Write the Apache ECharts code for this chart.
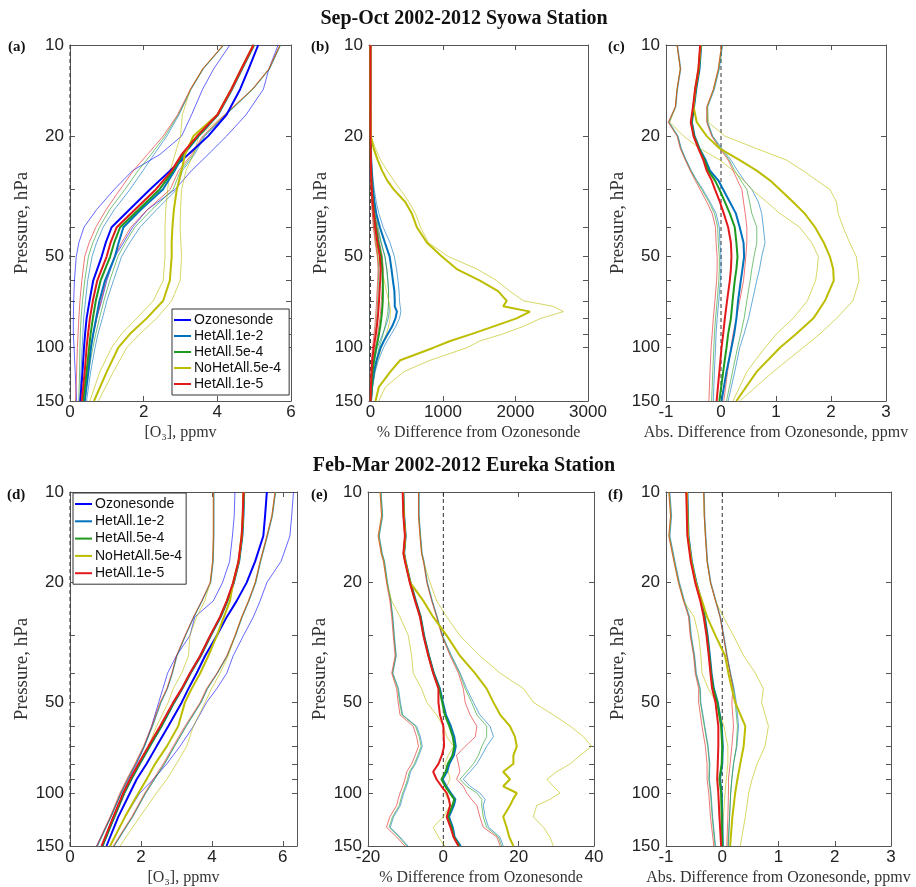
<!DOCTYPE html>
<html><head><meta charset="utf-8">
<script src="https://cdn.jsdelivr.net/npm/echarts@6/dist/echarts.min.js"></script>
<style>html,body{margin:0;padding:0;background:#fff}#c{width:916px;height:887px}</style>
</head><body><div id="c"></div>
<script>
// ---------------- DATA ----------------
// Pressure levels (hPa) per panel
const P_A = [10,12,14,17,20,23,26,30,35,40,45,50,60,70,80,90,100,120,150];
const P_B = [10,15,20,22,24,26,28,30,33,36,40,45,50,55,60,65,70,73,76,80,85,90,95,100,110,120,135,150];
const P_C = [10,12,14,16,18,20,22,24,26,28,30,33,36,40,45,50,55,60,70,80,90,100,120,150];
const P_D = [10,12,14,17,20,23,26,30,35,40,45,50,60,70,80,90,100,120,150];
const P_E = [10,12,14,16,17,20,23,26,30,35,40,45,50,55,60,65,70,75,80,85,90,95,100,105,110,120,130,140,150];
const P_F = [10,12,14,17,20,23,26,30,35,40,45,50,60,70,80,90,100,120,150];

// Tick labels
const Y_TICK_LABELS = [10,20,50,100,150];
const Y_TICKS = [10,20,30,40,50,60,70,80,90,100,150];
const XT_A = [0,2,4,6];
const XT_B = [0,1000,2000,3000];
const XT_C = [-1,0,1,2,3];
const XT_D = [0,2,4,6];
const XT_E = [-20,0,20,40];
const XT_F = [-1,0,1,2,3];

// (a) Syowa O3, ppmv
const a_oz_lo   = [4.34,3.9,3.6,3.3,3.03,2.44,1.7,1.2,0.72,0.38,0.24,0.17,0.12,0.1,0.09,0.09,0.11,0.14,0.18];
const a_oz_mean = [5.11,4.85,4.62,4.25,3.75,3.21,2.72,2.17,1.61,1.13,0.97,0.86,0.63,0.53,0.45,0.41,0.38,0.34,0.28];
const a_oz_hi   = [5.65,5.4,5.25,4.78,4.25,3.75,3.3,2.85,2.1,1.7,1.45,1.22,1.0,0.86,0.72,0.63,0.56,0.47,0.41];
const a_h2_lo   = [4.18,3.62,3.29,2.96,2.63,2.28,1.98,1.63,1.2,0.9,0.72,0.6,0.48,0.42,0.37,0.35,0.33,0.3,0.27];
const a_h2_mean = [5.0,4.67,4.4,4.02,3.49,3.09,2.84,2.52,1.92,1.45,1.32,1.22,0.95,0.8,0.71,0.63,0.57,0.5,0.4];
const a_h2_hi   = [5.72,5.42,4.97,4.24,3.66,3.38,3.05,2.9,2.35,1.9,1.62,1.4,1.18,1.0,0.88,0.76,0.68,0.56,0.45];
const a_h4_lo   = [4.17,3.61,3.28,2.94,2.58,2.2,1.85,1.49,1.08,0.8,0.62,0.5,0.4,0.34,0.3,0.28,0.27,0.26,0.24];
const a_h4_mean = [4.99,4.66,4.39,4.01,3.47,3.06,2.8,2.43,1.86,1.36,1.2,1.09,0.83,0.7,0.62,0.56,0.52,0.45,0.36];
const a_h4_hi   = [5.71,5.41,4.96,4.22,3.63,3.34,3.0,2.8,2.22,1.76,1.5,1.3,1.08,0.92,0.8,0.7,0.62,0.5,0.4];
const a_nh_lo   = [4.16,3.6,3.27,3.05,3.0,2.85,2.72,2.65,2.6,2.58,2.58,2.58,2.53,2.26,1.81,1.4,1.13,0.81,0.54];
const a_nh_mean = [4.98,4.65,4.38,4.0,3.35,3.12,3.03,2.9,2.82,2.78,2.76,2.76,2.71,2.53,2.08,1.63,1.31,1.0,0.65];
const a_nh_hi   = [5.7,5.4,4.95,4.2,3.5,3.35,3.15,3.03,3.0,2.99,3.01,3.03,2.99,2.76,2.35,1.9,1.54,1.18,0.77];
const a_h5_lo   = [4.16,3.6,3.27,2.92,2.53,2.1,1.72,1.36,0.98,0.7,0.52,0.4,0.32,0.27,0.24,0.22,0.2,0.18,0.15];
const a_h5_mean = [4.98,4.65,4.38,4.0,3.45,3.03,2.76,2.33,1.76,1.27,1.1,0.995,0.74,0.62,0.54,0.49,0.45,0.4,0.32];
const a_h5_hi   = [5.7,5.4,4.95,4.2,3.6,3.3,2.95,2.72,2.1,1.65,1.4,1.2,0.98,0.84,0.73,0.64,0.56,0.46,0.36];

// (b) Syowa % difference
const b_h2_lo   = [0,0,0,2,5,8,12,20,32,50,90,145,200,225,240,250,250,255,260,245,210,170,130,95,55,30,10,3];
const b_h2_mean = [0,0,0,5,10,16,25,35,55,80,130,200,265,290,310,330,335,335,365,345,300,240,185,140,85,50,20,8];
const b_h2_hi   = [0,0,0,8,15,25,38,52,80,115,175,270,330,360,380,395,400,410,420,400,350,290,230,180,110,65,30,12];
const b_h4_lo   = [0,0,0,1,2,4,7,12,20,30,48,75,105,115,110,105,100,95,90,85,75,65,55,45,28,15,6,2];
const b_h4_mean = [0,0,0,3,6,10,15,22,35,52,75,110,150,165,170,172,170,165,160,150,135,118,100,80,50,30,15,5];
const b_h4_hi   = [0,0,0,6,12,18,26,36,55,78,105,150,200,225,240,250,250,245,240,225,200,175,150,120,80,50,25,10];
const b_nh_lo   = [0,0,0,0,5,10,20,30,40,50,60,80,100,150,190,220,250,270,275,270,250,220,180,150,100,60,30,10];
const b_nh_mean = [0,0,5,45,100,160,230,320,480,570,640,780,985,1190,1510,1760,1880,1830,2200,2015,1700,1400,1100,870,410,275,115,70];
const b_nh_hi   = [0,0,5,70,140,230,320,410,530,620,690,800,1075,1470,1740,1920,2110,2520,2660,2350,2110,1830,1510,1330,825,460,205,115];
const b_h5_lo   = [0,0,0,0,1,2,4,8,15,25,40,65,95,105,100,92,85,80,75,70,60,50,40,28,15,8,3,0];
const b_h5_mean = [0,0,0,2,5,8,12,18,30,45,65,95,130,140,135,125,118,112,108,100,88,75,60,45,25,15,6,2];
const b_h5_hi   = [0,0,0,5,10,15,22,30,45,65,90,125,165,175,170,160,150,145,140,130,115,100,85,65,40,25,12,5];

// (c) Syowa abs. difference, ppmv
const c_h2_lo   = [-0.79,-0.73,-0.79,-0.82,-0.94,-0.78,-0.72,-0.63,-0.54,-0.44,-0.33,-0.2,-0.09,-0.03,-0.02,0,0,-0.01,-0.04,-0.07,-0.09,-0.1,-0.12,-0.14];
const c_h2_mean = [-0.36,-0.39,-0.45,-0.49,-0.53,-0.48,-0.39,-0.28,-0.2,-0.05,0.04,0.16,0.27,0.34,0.41,0.42,0.39,0.36,0.31,0.28,0.24,0.19,0.1,0.01];
const c_h2_hi   = [0.03,-0.03,-0.12,-0.24,-0.24,-0.15,0.02,0.18,0.3,0.42,0.56,0.68,0.74,0.77,0.8,0.74,0.7,0.65,0.57,0.5,0.42,0.34,0.25,0.13];
const c_h4_lo   = [-0.8,-0.74,-0.8,-0.83,-0.95,-0.79,-0.73,-0.64,-0.55,-0.45,-0.35,-0.22,-0.12,-0.06,-0.05,-0.03,-0.03,-0.04,-0.07,-0.1,-0.12,-0.13,-0.15,-0.17];
const c_h4_mean = [-0.37,-0.4,-0.46,-0.5,-0.54,-0.49,-0.4,-0.3,-0.23,-0.11,-0.03,0.07,0.16,0.25,0.28,0.3,0.28,0.25,0.21,0.18,0.13,0.1,0.04,-0.03];
const c_h4_hi   = [0.02,-0.04,-0.13,-0.25,-0.25,-0.16,0.0,0.15,0.25,0.36,0.47,0.52,0.56,0.65,0.65,0.6,0.56,0.53,0.47,0.42,0.36,0.3,0.21,0.1];
const c_nh_lo   = [-0.8,-0.74,-0.8,-0.83,-0.93,-0.68,-0.38,-0.02,0.22,0.41,0.56,0.83,1.07,1.43,1.65,1.77,1.75,1.72,1.57,1.31,1.01,0.8,0.47,0.22];
const c_nh_mean = [-0.37,-0.41,-0.47,-0.5,-0.44,-0.26,-0.02,0.34,0.65,0.89,1.07,1.31,1.52,1.71,1.87,1.98,2.04,2.05,1.89,1.68,1.37,1.07,0.65,0.28];
const c_nh_hi   = [0.01,-0.05,-0.14,-0.25,-0.23,0.07,0.65,1.19,1.49,1.74,1.98,2.1,2.13,2.22,2.34,2.46,2.49,2.51,2.4,2.1,1.8,1.49,0.95,0.34];
const c_h5_lo   = [-0.8,-0.74,-0.8,-0.83,-0.96,-0.8,-0.74,-0.65,-0.56,-0.47,-0.38,-0.26,-0.16,-0.1,-0.09,-0.07,-0.07,-0.08,-0.11,-0.14,-0.16,-0.18,-0.2,-0.22];
const c_h5_mean = [-0.38,-0.41,-0.47,-0.51,-0.55,-0.5,-0.41,-0.32,-0.26,-0.17,-0.11,-0.02,0.05,0.13,0.18,0.19,0.18,0.16,0.11,0.07,0.04,0.01,-0.03,-0.08];
const c_h5_hi   = [0.01,-0.05,-0.14,-0.26,-0.26,-0.17,-0.02,0.13,0.22,0.3,0.38,0.41,0.44,0.47,0.47,0.45,0.43,0.41,0.34,0.28,0.22,0.18,0.12,0.05];

// (d) Eureka O3, ppmv
const d_oz_lo   = [4.65,4.63,4.58,4.5,4.3,4.04,3.52,3.38,3.0,2.75,2.62,2.5,2.3,2.1,1.88,1.65,1.45,1.15,0.75];
const d_oz_mean = [5.55,5.5,5.45,5.22,4.98,4.7,4.42,4.14,3.81,3.57,3.34,3.15,2.77,2.44,2.16,1.88,1.69,1.36,1.03];
const d_oz_hi   = [6.3,6.25,6.2,5.95,5.55,5.36,5.17,4.89,4.6,4.42,4.14,3.85,3.48,3.1,2.73,2.35,1.97,1.55,1.13];
const d_h2_lo   = [4.06,4.06,4.06,4.04,3.97,3.73,3.5,3.26,3.02,2.89,2.75,2.57,2.33,2.1,1.86,1.63,1.44,1.16,0.78];
const d_h2_mean = [4.91,4.89,4.86,4.77,4.62,4.44,4.25,3.97,3.69,3.4,3.17,2.94,2.58,2.25,1.97,1.73,1.53,1.25,0.92];
const d_h2_hi   = [5.8,5.71,5.57,5.38,5.24,5.05,4.86,4.67,4.44,4.16,3.88,3.7,3.28,2.95,2.67,2.39,2.14,1.77,1.25];
const d_h4_lo   = [4.05,4.05,4.05,4.03,3.96,3.72,3.49,3.25,3.01,2.88,2.74,2.56,2.32,2.09,1.85,1.62,1.43,1.15,0.77];
const d_h4_mean = [4.9,4.88,4.85,4.76,4.61,4.43,4.24,3.96,3.68,3.39,3.16,2.93,2.57,2.24,1.96,1.72,1.52,1.24,0.91];
const d_h4_hi   = [5.79,5.7,5.56,5.37,5.23,5.04,4.85,4.66,4.43,4.15,3.87,3.69,3.27,2.94,2.66,2.38,2.13,1.76,1.24];
const d_nh_lo   = [4.04,4.04,4.04,4.02,3.95,3.8,3.57,3.38,3.34,3.15,2.91,2.77,2.44,2.21,1.97,1.74,1.55,1.27,0.89];
const d_nh_mean = [4.89,4.87,4.84,4.75,4.6,4.51,4.34,4.14,3.9,3.67,3.43,3.24,3.05,2.73,2.4,2.16,1.93,1.55,1.13];
const d_nh_hi   = [5.78,5.69,5.55,5.36,5.22,5.03,4.84,4.65,4.46,4.23,3.99,3.81,3.48,3.29,3.0,2.73,2.44,1.97,1.41];
const d_h5_lo   = [4.04,4.04,4.04,4.02,3.95,3.71,3.48,3.24,3.0,2.87,2.73,2.54,2.3,2.07,1.83,1.6,1.41,1.13,0.75];
const d_h5_mean = [4.89,4.87,4.84,4.75,4.6,4.42,4.23,3.95,3.67,3.38,3.15,2.91,2.54,2.21,1.93,1.69,1.5,1.22,0.89];
const d_h5_hi   = [5.78,5.69,5.55,5.36,5.22,5.03,4.84,4.65,4.42,4.14,3.85,3.67,3.24,2.91,2.63,2.35,2.11,1.74,1.22];

// (e) Eureka % difference
const e_h2_lo   = [-16.5,-16.1,-17.0,-16.2,-15.6,-14.8,-13.9,-13.4,-13.0,-12.5,-13.4,-11.9,-11.4,-10.8,-7.1,-6.1,-5.6,-6.5,-7.4,-8.7,-9.2,-9.8,-10.5,-11.0,-11.4,-13.2,-14.1,-11.5,-9.4];
const e_h2_mean = [-10.6,-10.4,-10.0,-10.4,-10.0,-8.7,-7.3,-6.0,-5.1,-3.8,-2.5,-0.9,-0.1,0.7,2.0,2.9,3.3,2.8,1.6,1.0,-0.2,0.8,2.0,3.2,2.8,1.5,2.5,3.0,4.6];
const e_h2_hi   = [-6.4,-6.4,-6.0,-5.6,-5.1,-4.2,-2.9,-1.6,-0.2,2.2,4.5,6.2,8.0,9.7,12.4,13.3,11.5,10.2,8.9,7.1,5.3,7.1,9.7,11.1,10.6,11.1,12.0,15.0,15.9];
const e_h4_lo   = [-16.6,-16.2,-17.1,-16.3,-15.7,-14.9,-14.0,-13.5,-13.1,-12.6,-13.5,-12.1,-11.6,-11.0,-7.4,-6.4,-5.9,-6.8,-7.7,-9.0,-9.5,-10.1,-10.8,-11.3,-11.7,-13.5,-14.4,-11.8,-9.7];
const e_h4_mean = [-10.7,-10.5,-10.1,-10.5,-10.1,-8.8,-7.4,-6.1,-5.2,-3.9,-2.6,-1.1,-0.3,0.4,1.6,2.5,2.9,2.4,1.2,0.6,-0.5,0.5,1.7,2.9,2.4,1.2,2.2,2.8,4.3];
const e_h4_hi   = [-6.5,-6.5,-6.1,-5.7,-5.2,-4.3,-3.0,-1.7,-0.3,2.0,4.3,5.8,7.5,8.9,11.5,11.5,10.2,9.3,8.0,6.2,4.4,6.2,8.9,10.2,10.2,10.6,11.5,14.6,15.5];
const e_nh_lo   = [-16.8,-16.4,-17.3,-16.5,-15.9,-15.0,-13.7,-11.5,-9.3,-8.4,-8.0,-5.8,-4.4,-1.8,0,0.9,2.7,1.3,0.4,1.3,1.8,0.9,0.4,1.2,1.8,0,-2.7,-1.3,0.4];
const e_nh_mean = [-10.7,-10.5,-10.1,-10.5,-10.1,-8.8,-5.3,-2.7,0.9,4.4,8.4,11.5,13.3,15.1,17.7,19.0,19.5,18.6,18.6,15.9,17.7,15.9,19.5,18.5,17.7,15.9,16.8,17.5,18.6];
const e_nh_hi   = [-6.6,-6.6,-6.2,-5.8,-5.3,-3.5,-1.8,0.9,4.4,9.7,15.1,21.3,23.9,29.2,33.7,37.2,39.4,36.3,33.7,30.1,27.5,29.2,31.0,28.3,24.8,23.9,26.6,28.3,29.2];
const e_h5_lo   = [-16.8,-16.4,-17.3,-16.5,-15.9,-15.1,-14.2,-13.7,-13.3,-12.8,-13.7,-12.4,-12.0,-11.5,-8.0,-7.1,-6.6,-7.5,-8.4,-9.7,-10.2,-10.8,-11.5,-12.0,-12.4,-14.2,-15.1,-12.4,-10.2];
const e_h5_mean = [-10.8,-10.6,-10.2,-10.6,-10.2,-8.9,-7.5,-6.2,-5.3,-4.0,-2.7,-1.3,-1.3,-0.9,0,0.1,0.2,-0.4,-1.3,-2.7,-1.8,-0.5,0.9,1.5,1.8,0.9,1.9,2.7,4.0];
const e_h5_hi   = [-6.6,-6.6,-6.2,-5.8,-5.3,-4.4,-3.1,-1.8,-0.4,1.8,4.0,5.3,5.8,7.1,8.9,8.5,5.8,3.5,4.0,4.4,3.5,5.3,6.2,7.5,8.9,9.7,10.6,14.2,15.1];

// (f) Eureka abs. difference, ppmv
const f_h2_lo   = [-0.93,-0.9,-0.93,-0.84,-0.76,-0.67,-0.58,-0.55,-0.49,-0.46,-0.39,-0.38,-0.31,-0.25,-0.22,-0.23,-0.2,-0.17,-0.12];
const f_h2_mean = [-0.62,-0.61,-0.6,-0.54,-0.46,-0.37,-0.31,-0.26,-0.22,-0.19,-0.15,-0.08,-0.01,0.01,0.0,-0.04,-0.01,0.0,0.01];
const f_h2_hi   = [-0.32,-0.31,-0.29,-0.26,-0.2,-0.11,-0.03,0.03,0.09,0.15,0.21,0.25,0.29,0.26,0.2,0.17,0.15,0.13,0.11];
const f_h4_lo   = [-0.94,-0.91,-0.94,-0.85,-0.77,-0.68,-0.59,-0.56,-0.5,-0.47,-0.4,-0.39,-0.32,-0.26,-0.23,-0.24,-0.21,-0.18,-0.13];
const f_h4_mean = [-0.63,-0.62,-0.61,-0.55,-0.47,-0.38,-0.32,-0.27,-0.23,-0.2,-0.16,-0.09,-0.02,0.0,-0.01,-0.05,-0.02,-0.01,0.0];
const f_h4_hi   = [-0.33,-0.32,-0.3,-0.27,-0.21,-0.12,-0.04,0.02,0.08,0.14,0.2,0.23,0.27,0.25,0.2,0.17,0.15,0.13,0.1];
const f_nh_lo   = [-0.95,-0.92,-0.95,-0.86,-0.78,-0.69,-0.5,-0.42,-0.38,-0.36,-0.25,-0.1,0.03,0.1,0.1,0.07,0.05,0.02,-0.01];
const f_nh_mean = [-0.63,-0.62,-0.61,-0.55,-0.47,-0.36,-0.27,-0.12,0.05,0.11,0.17,0.23,0.41,0.38,0.32,0.27,0.23,0.18,0.14];
const f_nh_hi   = [-0.33,-0.32,-0.3,-0.27,-0.21,-0.12,0.02,0.2,0.38,0.59,0.73,0.7,0.82,0.76,0.62,0.53,0.47,0.41,0.32];
const f_h5_lo   = [-0.95,-0.92,-0.95,-0.86,-0.78,-0.69,-0.6,-0.57,-0.51,-0.48,-0.42,-0.42,-0.36,-0.3,-0.27,-0.27,-0.24,-0.21,-0.15];
const f_h5_mean = [-0.64,-0.63,-0.62,-0.56,-0.48,-0.39,-0.33,-0.28,-0.24,-0.21,-0.18,-0.12,-0.07,-0.07,-0.08,-0.09,-0.07,-0.05,-0.02];
const f_h5_hi   = [-0.33,-0.32,-0.3,-0.27,-0.21,-0.12,-0.04,0.02,0.08,0.14,0.19,0.17,0.2,0.17,0.14,0.11,0.11,0.1,0.08];

// ---------------- CHART ----------------
const KEYS = ['oz','h2','h4','nh','h5'];
const NAMES = {oz:'Ozonesonde', h2:'HetAll.1e-2', h4:'HetAll.5e-4', nh:'NoHetAll.5e-4', h5:'HetAll.1e-5'};
const COLORS = {oz:'#0000ff', h2:'#0072bd', h4:'#1f9a1f', nh:'#bdbd00', h5:'#e31a1c'};
const SANS = 'Liberation Sans, Arial, sans-serif';
const SERIF = 'Liberation Serif, Times New Roman, serif';
const AX = '#555';
const YMIN = Math.log10(10), YMAX = Math.log10(150);

const PANELS = [
  {P:P_A, x:[0,6], t:XT_A, xname:'[O₃], ppmv', tag:'(a)', tagX:8, tagY:47,
   grid:{left:70,top:45,width:221,height:356},
   L:{oz:[a_oz_lo,a_oz_mean,a_oz_hi], h2:[a_h2_lo,a_h2_mean,a_h2_hi], h4:[a_h4_lo,a_h4_mean,a_h4_hi], nh:[a_nh_lo,a_nh_mean,a_nh_hi], h5:[a_h5_lo,a_h5_mean,a_h5_hi]}},
  {P:P_B, x:[-20,3000], t:XT_B, xname:'% Difference from Ozonesonde', tag:'(b)', tagX:311, tagY:47,
   grid:{left:369,top:45,width:219,height:356},
   L:{h2:[b_h2_lo,b_h2_mean,b_h2_hi], h4:[b_h4_lo,b_h4_mean,b_h4_hi], nh:[b_nh_lo,b_nh_mean,b_nh_hi], h5:[b_h5_lo,b_h5_mean,b_h5_hi]}},
  {P:P_C, x:[-1,3], t:XT_C, xname:'Abs. Difference from Ozonesonde, ppmv', tag:'(c)', tagX:608, tagY:47,
   grid:{left:666,top:45,width:220,height:356},
   L:{h2:[c_h2_lo,c_h2_mean,c_h2_hi], h4:[c_h4_lo,c_h4_mean,c_h4_hi], nh:[c_nh_lo,c_nh_mean,c_nh_hi], h5:[c_h5_lo,c_h5_mean,c_h5_hi]}},
  {P:P_D, x:[0,6.4], t:XT_D, xname:'[O₃], ppmv', tag:'(d)', tagX:7, tagY:495,
   grid:{left:70,top:492,width:227,height:355},
   L:{oz:[d_oz_lo,d_oz_mean,d_oz_hi], h2:[d_h2_lo,d_h2_mean,d_h2_hi], h4:[d_h4_lo,d_h4_mean,d_h4_hi], nh:[d_nh_lo,d_nh_mean,d_nh_hi], h5:[d_h5_lo,d_h5_mean,d_h5_hi]}},
  {P:P_E, x:[-20,40], t:XT_E, xname:'% Difference from Ozonesonde', tag:'(e)', tagX:311, tagY:495,
   grid:{left:368,top:492,width:226,height:355},
   L:{h2:[e_h2_lo,e_h2_mean,e_h2_hi], h4:[e_h4_lo,e_h4_mean,e_h4_hi], nh:[e_nh_lo,e_nh_mean,e_nh_hi], h5:[e_h5_lo,e_h5_mean,e_h5_hi]}},
  {P:P_F, x:[-1,3], t:XT_F, xname:'Abs. Difference from Ozonesonde, ppmv', tag:'(f)', tagX:608, tagY:495,
   grid:{left:666,top:492,width:225,height:355},
   L:{h2:[f_h2_lo,f_h2_mean,f_h2_hi], h4:[f_h4_lo,f_h4_mean,f_h4_hi], nh:[f_nh_lo,f_nh_mean,f_nh_hi], h5:[f_h5_lo,f_h5_mean,f_h5_hi]}}
];

function pts(P, X){ return P.map((p,i)=>[X[i], Math.log10(p)]); }

const grids = [], xAxes = [], yAxes = [], series = [], graphics = [];
PANELS.forEach((pn,i)=>{
  grids.push(pn.grid);
  const xc = {type:'value', gridIndex:i, min:pn.x[0], max:pn.x[1], splitLine:{show:false},
    axisLine:{show:true, onZero:false, lineStyle:{color:AX, width:1}},
    axisTick:{show:true, inside:true, length:5, customValues:pn.t, lineStyle:{color:AX}}};
  xAxes.push(Object.assign({}, xc, {position:'bottom',
    axisLabel:{customValues:pn.t, formatter:v=>String(v), fontSize:17, fontFamily:SANS, color:'#222', margin:3},
    name:pn.xname, nameLocation:'middle', nameGap:24,
    nameTextStyle:{fontFamily:SERIF, fontSize:16, color:'#333'}}));
  xAxes.push(Object.assign({}, xc, {position:'top', axisLabel:{show:false}}));
  const yc = {type:'value', gridIndex:i, inverse:true, min:YMIN, max:YMAX, splitLine:{show:false},
    axisLine:{show:true, onZero:false, lineStyle:{color:AX, width:1}},
    axisTick:{show:true, inside:true, length:5, customValues:Y_TICKS.map(v=>Math.log10(v)), lineStyle:{color:AX}}};
  yAxes.push(Object.assign({}, yc, {position:'left',
    axisLabel:{customValues:Y_TICK_LABELS.map(v=>Math.log10(v)), formatter:v=>String(Math.round(Math.pow(10,v))),
      fontSize:17, fontFamily:SANS, color:'#222', margin:6},
    name:'Pressure, hPa', nameLocation:'middle', nameGap:36,
    nameTextStyle:{fontFamily:SERIF, fontSize:19, color:'#333'}}));
  yAxes.push(Object.assign({}, yc, {position:'right', axisLabel:{show:false}}));

  // zero reference line
  series.push({type:'line', name:'zero', xAxisIndex:2*i, yAxisIndex:2*i, data:[[0,YMIN],[0,YMAX]],
    symbol:'none', silent:true, z:1, lineStyle:{color:'#333', width:1, type:[4,3]}});
  // thin spread lines
  KEYS.forEach(k=>{
    const L = pn.L[k]; if(!L) return;
    [L[0], L[2]].forEach(arr=>{
      series.push({type:'line', name:NAMES[k]+' spread', xAxisIndex:2*i, yAxisIndex:2*i, data:pts(pn.P, arr),
        symbol:'none', silent:true, z:2, lineStyle:{color:COLORS[k], width:1, opacity:0.6}, itemStyle:{color:COLORS[k]}});
    });
  });
  // thick mean lines
  KEYS.forEach(k=>{
    const L = pn.L[k]; if(!L) return;
    series.push({type:'line', name:NAMES[k], xAxisIndex:2*i, yAxisIndex:2*i, data:pts(pn.P, L[1]),
      symbol:'none', silent:true, z:3, lineStyle:{color:COLORS[k], width:2}, itemStyle:{color:COLORS[k]}});
  });
  graphics.push({type:'text', x:pn.tagX, y:pn.tagY,
    style:{text:pn.tag, font:'bold 15px '+SERIF, fill:'#111', align:'left', verticalAlign:'middle', textAlign:'left', textVerticalAlign:'middle'}});
});

graphics.push({type:'text', x:464, y:19, style:{text:'Sep-Oct 2002-2012 Syowa Station', font:'bold 20px '+SERIF, fill:'#111',
  align:'center', verticalAlign:'middle', textAlign:'center', textVerticalAlign:'middle'}});
graphics.push({type:'text', x:464, y:466, style:{text:'Feb-Mar 2002-2012 Eureka Station', font:'bold 20px '+SERIF, fill:'#111',
  align:'center', verticalAlign:'middle', textAlign:'center', textVerticalAlign:'middle'}});

const legendNames = KEYS.map(k=>({name:NAMES[k], icon:'rect', itemStyle:{color:COLORS[k]}}));
const legendCommon = {data:legendNames, orient:'vertical', icon:'rect', itemWidth:17, itemHeight:2, selectedMode:false,
  borderColor:'#333', borderWidth:1, backgroundColor:'#fff',
  textStyle:{fontFamily:SANS, fontSize:14, color:'#111', padding:[0,0,0,-2]}};

const option = {
  animation:false,
  backgroundColor:'#fff',
  grid:grids, xAxis:xAxes, yAxis:yAxes, series:series,
  legend:[
    Object.assign({}, legendCommon, {left:172, top:309, itemGap:2, padding:[4,8,4,2]}),
    Object.assign({}, legendCommon, {left:73, top:493, itemGap:3.3, padding:[4,4,4,2]})
  ],
  graphic:graphics
};
const chart = echarts.init(document.getElementById('c'), null, {renderer:'canvas'});
chart.setOption(option);
</script></body></html>
